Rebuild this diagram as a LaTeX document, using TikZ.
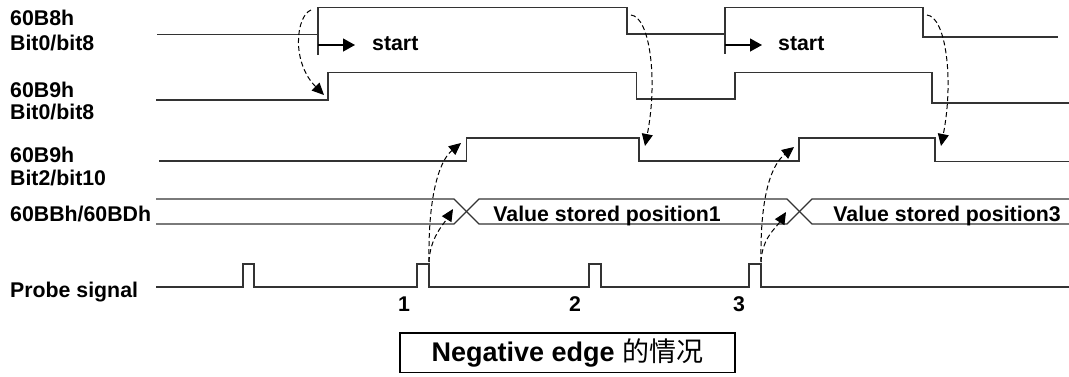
\documentclass[tikz,border=0pt]{standalone}
\usepackage{fontspec}
\setmainfont{Liberation Sans}
\newfontfamily\cjk{Noto Sans CJK SC}
\usetikzlibrary{arrows.meta,positioning}

\begin{document}
\begin{tikzpicture}[x=1pt, y=-1pt,
  sig/.style={line width=1.3pt, black!80},
  lbl/.style={anchor=base west, font=\fontsize{21.3}{24}\selectfont\bfseries, inner sep=0pt},
  txt/.style={anchor=base, font=\fontsize{21.3}{24}\selectfont\bfseries, inner sep=0pt},
  link/.style={-{Triangle[length=12pt,width=11pt]}, line width=1pt, dash pattern=on 5pt off 3pt},
  go/.style={-{Triangle[length=12pt,width=13pt]}, line width=1.3pt}
]
  \useasboundingbox (0,0) rectangle (1069,376);

  % signal names
  \node[lbl] (n8a) at (10,25)  {60B8h};
  \node[lbl] (n8b) at (10,50)  {Bit0/bit8};
  \node[lbl] (n9a) at (10,97)  {60B9h};
  \node[lbl] (n9b) at (10,119) {Bit0/bit8};
  \node[lbl] (nAa) at (10,162) {60B9h};
  \node[lbl] (nAb) at (10,185) {Bit2/bit10};
  \node[lbl] (nbus) at (10,221) {60BBh/60BDh};
  \node[lbl] (npr) at (10,297) {Probe signal};

  % 60B8h
  \draw[sig] (157,34.5) -- (318,34.5) -- (318,7.5) -- (627,7.5) -- (627,34) -- (725,34)
             -- (725,7.5) -- (923,7.5) -- (923,37) -- (1058,37);
  \coordinate (s1) at (318,45);
  \coordinate (s2) at (725,45);
  \draw[sig] (318,7.5) -- (318,55);
  \draw[sig] (725,7.5) -- (725,54);
  \draw[go] (s1) -- ++(37,0) coordinate (e1);
  \draw[go] (s2) -- ++(37,0) coordinate (e2);
  \node[lbl] (st1) at (372,50) {start};
  \node[lbl] (st2) at (778,50) {start};

  % 60B9h bit0
  \draw[sig] (156,100) -- (328,100) -- (328,72.5) -- (636.5,72.5) -- (636.5,99) -- (735,99)
             -- (735,72.5) -- (932,72.5) -- (932,103) -- (1069,103);

  % 60B9h bit2
  \draw[sig] (159,161) -- (466.7,161) -- (466.7,138) -- (639,138) -- (639,161) -- (799,161)
             -- (799,138) -- (935,138) -- (935,161.5) -- (1069,161.5);

  % position bus
  \draw[sig] (156,199) -- (454,199) -- (479,224) -- (787,224) -- (812,199) -- (1069,199);
  \draw[sig] (156,224) -- (454,224) -- (479,199) -- (787,199) -- (812,224) -- (1069,224);
  \node[txt] (v1) at (607,221) {Value stored position1};
  \node[txt] (v3) at (947,221) {Value stored position3};

  % probe
  \draw[sig] (156,287) -- (243,287) -- (243,264) -- (254,264) -- (254,287) -- (417,287)
             -- (417,264) -- (429,264) -- (429,287) -- (589,287) -- (589,264) -- (601,264)
             -- (601,287) -- (749,287) -- (749,264) -- (761,264) -- (761,287) -- (1069,287);
  \node[txt] (k1) at (404,311) {1};
  \node[txt] (k2) at (575,311) {2};
  \node[txt] (k3) at (739,311) {3};

  % edge to edge links
  \coordinate (a1) at (311,10);   \coordinate (b1) at (324,95);
  \coordinate (a2) at (631,15);   \coordinate (b2) at (645,146);
  \coordinate (a3) at (927,15);   \coordinate (b3) at (941,146);
  \coordinate (p1) at (429,262);  \coordinate (p3) at (761,262);
  \coordinate (u1) at (461,143);  \coordinate (w1) at (453,209);
  \coordinate (u3) at (794,147);  \coordinate (w3) at (786,212);
  \draw[link] (a1) .. controls (296,16) and (291,62) .. (b1);
  \draw[link] (a2) .. controls (650,17) and (658,80) .. (b2);
  \draw[link] (a3) .. controls (946,17) and (954,80) .. (b3);
  \draw[link] (p1) .. controls (428,200) and (438,162) .. (u1);
  \draw[link] (p1) .. controls (430,238) and (443,225) .. (w1);
  \draw[link] (p3) .. controls (760,200) and (770,166) .. (u3);
  \draw[link] (p3) .. controls (762,238) and (776,228) .. (w3);

  % caption
  \node[draw, line width=1.3pt, minimum width=335pt, minimum height=39.5pt,
        font=\fontsize{27}{30}\selectfont\bfseries] (cap) at (567.5,352.8)
        {Negative edge {\cjk\mdseries 的情况}};
\end{tikzpicture}
\end{document}
